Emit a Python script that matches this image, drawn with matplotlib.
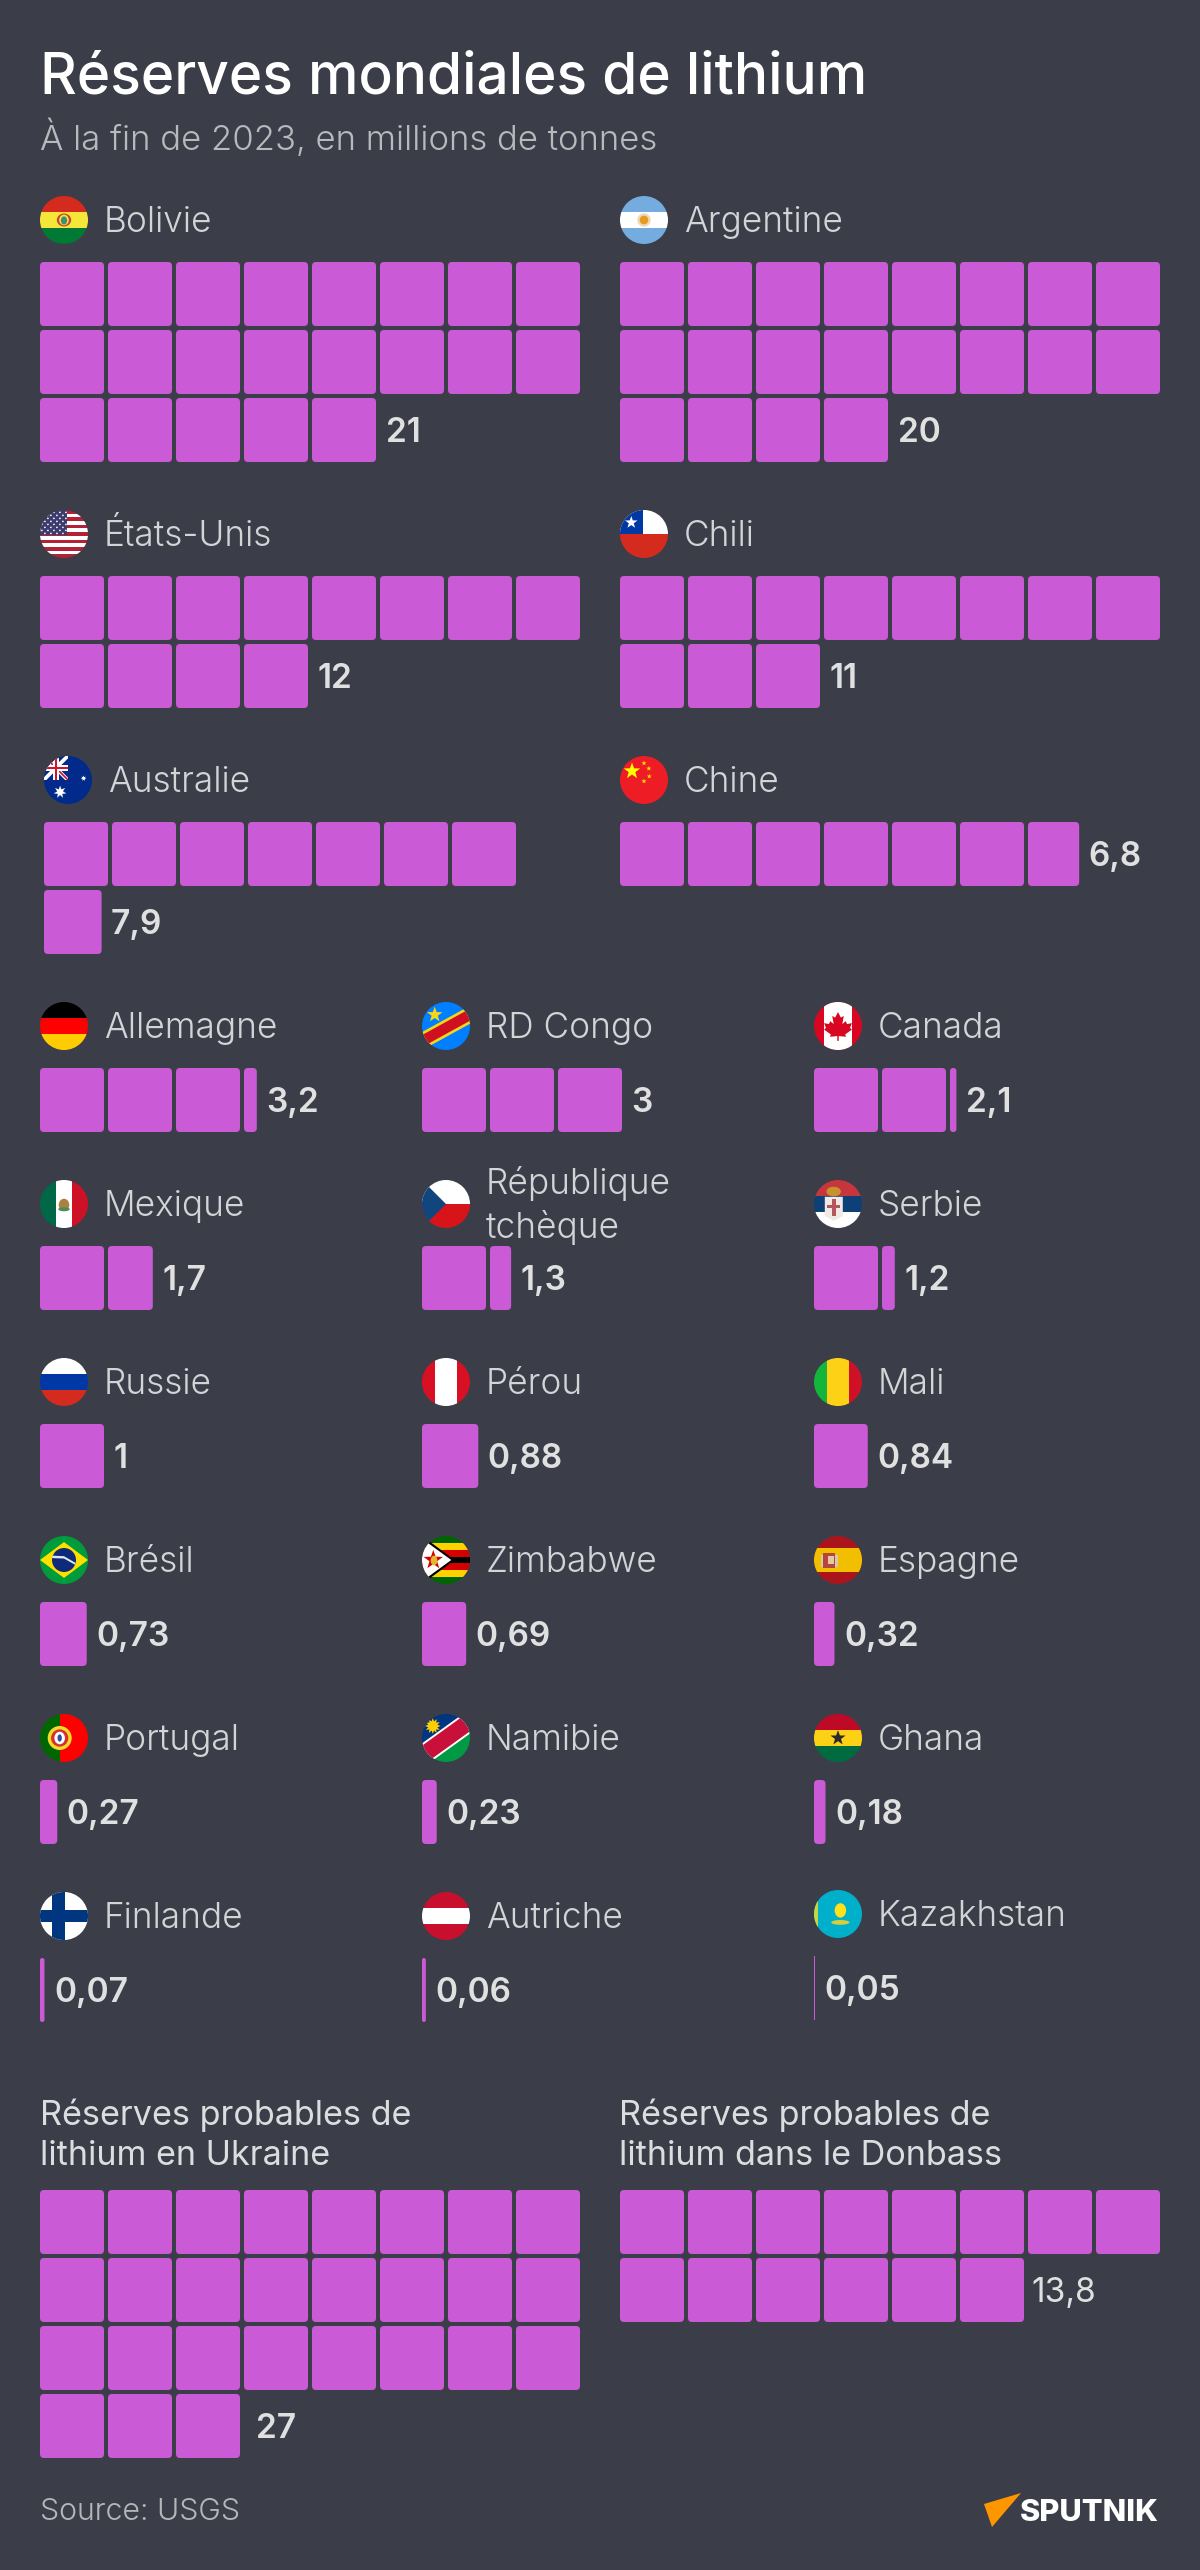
import math
import matplotlib
matplotlib.use('Agg')
import matplotlib.pyplot as plt
from matplotlib.patches import Circle, Polygon, Rectangle, FancyBboxPatch, Ellipse

# ---------- data ----------
big_names = ['Bolivie', 'Argentine', 'États-Unis', 'Chili', 'Australie', 'Chine']
big_labels = ['21', '20', '12', '11', '7,9', '6,8']
big_values = [21, 20, 12, 11, 7.9, 6.8]
big_per_row = [8, 8, 8, 8, 7, 8]

small_names = ['Allemagne', 'RD Congo', 'Canada',
               'Mexique', 'République\ntchèque', 'Serbie',
               'Russie', 'Pérou', 'Mali',
               'Brésil', 'Zimbabwe', 'Espagne',
               'Portugal', 'Namibie', 'Ghana',
               'Finlande', 'Autriche', 'Kazakhstan']
small_labels = ['3,2', '3', '2,1', '1,7', '1,3', '1,2', '1', '0,88', '0,84',
                '0,73', '0,69', '0,32', '0,27', '0,23', '0,18', '0,07', '0,06', '0,05']
# drawn lengths
small_values = [3.2, 3, 2.1, 1.7, 1.33, 1.2, 1, 0.88, 0.84,
                0.73, 0.69, 0.32, 0.27, 0.23, 0.18, 0.07, 0.06, 0.02]

prob_names = ['Réserves probables de\nlithium en Ukraine', 'Réserves probables de\nlithium dans le Donbass']
prob_labels = ['27', '13,8']
prob_values = [27, 14]   # the Donbass row is drawn with 14 whole squares

title = 'Réserves mondiales de lithium'
subtitle = 'À la fin de 2023, en millions de tonnes'
source = 'Source: USGS'

BG = '#3B3E49'
PURPLE = '#CB5AD6'
LABEL = '#D3D4D6'
VALUE = '#E0E0E0'

fig = plt.figure(figsize=(12, 25.7), dpi=100, facecolor=BG)
ax = fig.add_axes([0, 0, 1, 1])
ax.set_xlim(0, 1200)
ax.set_ylim(2570, 0)
ax.axis('off')

FONT = 'Inter'
NAME_PX = 35.2
VALUE_PX = 33.5


def txt(x, y, s, px, weight=300, color=LABEL, **kw):
    return ax.text(x, y, s, fontsize=px * 0.72, fontweight=weight, color=color,
                   family=FONT, va='baseline', ha='left', **kw)


# ---------- flags ----------
def star_pts(cx, cy, r, n=5, inner=0.4, rot=-90):
    pts = []
    for i in range(2 * n):
        a = math.radians(rot + i * 180 / n)
        rr = r if i % 2 == 0 else r * inner
        pts.append((cx + rr * math.cos(a), cy + rr * math.sin(a)))
    return pts


class Flag:
    def __init__(self, x, y):
        self.cx, self.cy, self.r = x + 24, y + 24, 24
        self.clip = Circle((self.cx, self.cy), 24, transform=ax.transData, fc='none', ec='none')
        ax.add_patch(self.clip)
        self.z = 3

    def poly(self, pts, color):
        p = Polygon([(self.cx + u * 24, self.cy + v * 24) for u, v in pts], closed=True,
                    fc=color, ec='none', lw=0, zorder=self.z)
        ax.add_patch(p)
        p.set_clip_path(self.clip)

    def rect(self, u0, v0, u1, v1, color):
        self.poly([(u0, v0), (u1, v0), (u1, v1), (u0, v1)], color)

    def h(self, *colors):
        n = len(colors)
        for i, c in enumerate(colors):
            self.rect(-1.02, -1 + 2 * i / n, 1.02, -1 + 2 * (i + 1) / n + (0.01 if i < n - 1 else 0), c)

    def v3(self, a, b, c, s=0.46):
        self.rect(-1.02, -1.02, -s, 1.02, a)
        self.rect(-s, -1.02, s, 1.02, b)
        self.rect(s, -1.02, 1.02, 1.02, c)

    def disc(self, u, v, r, color, rv=None):
        e = Ellipse((self.cx + u * 24, self.cy + v * 24), 2 * r * 24, 2 * (rv or r) * 24,
                    fc=color, ec='none', lw=0, zorder=self.z)
        ax.add_patch(e)
        e.set_clip_path(self.clip)

    def star(self, u, v, r, color, n=5, inner=0.4, rot=-90):
        self.poly(star_pts(u, v, r, n, inner, rot), color)

    def band(self, width, color, slope, off=0.0):
        # diagonal band rising to the right
        d = width * math.sqrt(1 + slope ** 2)
        self.poly([(-1.2, slope * 1.2 + off - d), (1.2, -slope * 1.2 + off - d),
                   (1.2, -slope * 1.2 + off + d), (-1.2, slope * 1.2 + off + d)], color)


def f_bolivie(f):
    f.h('#D52B1E', '#F4E73A', '#007934')
    f.disc(0, 0, .3, '#C8492B', .27)
    f.disc(0, 0, .2, '#F4E73A', .22)
    f.disc(0, 0.02, .13, '#3E8E7E', .17)


def f_argentine(f):
    f.h('#74ACDF', '#FFFFFF', '#74ACDF')
    f.disc(0, 0, .28, '#EFD9B4')
    f.disc(0, 0, .18, '#E49B20')


def f_usa(f):
    for i in range(13):
        f.rect(-1.02, -1 + 2 * i / 13, 1.02, -1 + 2 * (i + 1) / 13, '#B22234' if i % 2 == 0 else '#FFFFFF')
    f.rect(-1.02, -1.02, 0.11, 0.04, '#3C3B6E')
    for row in range(8):
        for col in range(9):
            if (row + col) % 2 == 0:
                f.disc(-0.92 + col * 0.125, -0.9 + row * 0.125, .035, '#FFFFFF')


def f_chili(f):
    f.rect(-1.02, -1.02, 1.02, 0, '#FFFFFF')
    f.rect(-1.02, 0, 1.02, 1.02, '#D52B1E')
    f.rect(-1.02, -1.02, -0.056, 0, '#0039A6')
    f.star(-0.53, -0.48, .27, '#FFFFFF')


def f_australie(f):
    f.rect(-1.02, -1.02, 1.02, 1.02, '#012A8A')
    f.rect(-1.02, -1.02, 0, 0, '#012A8A')
    s = [(-1.02, -1.0), (-0.9, -1.0), (0, -0.1), (0, 0), (-0.12, 0), (-1.02, -0.9)]
    f.poly(s, '#FFFFFF')
    s = [(0, -1.0), (-0.12, -1.0), (-1.02, -0.1), (-1.02, 0), (-0.9, 0), (0, -0.9)]
    f.poly(s, '#FFFFFF')
    f.poly([(-1.0, -1.0), (-0.95, -1.0), (0, -0.05), (0, 0), (-0.05, 0), (-1.0, -.95)], '#CF142B')
    f.rect(-0.62, -1.02, -0.38, 0, '#FFFFFF')
    f.rect(-1.02, -0.62, 0, -0.38, '#FFFFFF')
    f.rect(-0.56, -1.02, -0.44, 0, '#CF142B')
    f.rect(-1.02, -0.56, 0, -0.44, '#CF142B')
    f.star(-0.33, 0.5, .27, '#FFFFFF', n=7, inner=.45)
    f.star(0.65, -0.07, .12, '#FFFFFF', n=7, inner=.45)


def f_chine(f):
    f.rect(-1.02, -1.02, 1.02, 1.02, '#EE1C25')
    f.star(-0.5, -0.37, .36, '#FFFF00')
    for u, v in [(0, -.7), (.2, -.48), (.22, -.15), (0, .05)]:
        f.star(u, v, .11, '#FFDE00')


def f_allemagne(f):
    f.h('#000000', '#FF0000', '#FFCC00')


def f_rdc(f):
    f.rect(-1.02, -1.02, 1.02, 1.02, '#007FFF')
    f.band(.33, '#F7D618', 0.55, 0.08)
    f.band(.22, '#CE1021', 0.55, 0.08)
    f.star(-0.47, -0.47, .34, '#F7D618')


def f_canada(f):
    f.rect(-1.02, -1.02, 1.02, 1.02, '#D80621')
    f.rect(-0.6, -1.02, 0.6, 1.02, '#FFFFFF')
    leaf = [(0, -.58), (.12, -.35), (.24, -.42), (.18, -.08), (.32, -.2), (.38, -.08), (.58, -.12),
            (.5, .08), (.58, .15), (.3, .35), (.33, .45), (.03, .42), (.03, .62), (-.03, .62), (-.03, .42),
            (-.33, .45), (-.3, .35), (-.58, .15), (-.5, .08), (-.58, -.12), (-.38, -.08), (-.32, -.2),
            (-.18, -.08), (-.24, -.42), (-.12, -.35)]
    f.poly(leaf, '#D80621')


def f_mexique(f):
    f.v3('#006847', '#FFFFFF', '#CE1126', .33)
    f.disc(0, .04, .22, '#A8823F', .26)
    f.disc(0, .22, .24, '#4F8A5B', .08)


def f_tcheque(f):
    f.rect(-1.02, -1.02, 1.02, 0, '#FFFFFF')
    f.rect(-1.02, 0, 1.02, 1.02, '#D7141A')
    f.poly([(-1.02, -1.02), (0, 0), (-1.02, 1.02)], '#11457E')


def f_serbie(f):
    f.h('#C6363C', '#0C4076', '#FFFFFF')
    f.disc(-.18, -.52, .3, '#C8912E', .2)
    f.poly([(-.55, -.3), (.2, -.3), (.2, .5), (-.17, .7), (-.55, .5)], '#F1E9E4')
    f.rect(-.25, -.2, -.1, .5, '#B4565A')
    f.rect(-.45, .05, .1, .18, '#B4565A')


def f_russie(f):
    f.h('#FFFFFF', '#0039A6', '#D52B1E')


def f_perou(f):
    f.v3('#D91023', '#FFFFFF', '#D91023')


def f_mali(f):
    f.v3('#14B53A', '#FCD116', '#CE1126')


def f_bresil(f):
    f.rect(-1.02, -1.02, 1.02, 1.02, '#009B3A')
    f.poly([(-1, 0), (0, -.75), (1, 0), (0, .75)], '#FEDF00')
    f.disc(0, 0, .5, '#0F2A78')
    f.poly([(-.48, -.18), (0, -.16), (.48, .12), (.46, .2), (0, -.06), (-.5, -.08)], '#DDE5EE')


def f_zimbabwe(f):
    rows = ['#006400', '#FFD200', '#D40000', '#000000', '#D40000', '#FFD200', '#006400']
    for i, c in enumerate(rows):
        f.rect(-1.02, -1 + 2 * i / 7, 1.02, -1 + 2 * (i + 1) / 7, c)
    f.poly([(-1.1, -1.08), (.36, 0), (-1.1, 1.08)], '#000000')
    f.poly([(-1.1, -.96), (.22, 0), (-1.1, .96)], '#FFFFFF')
    f.star(-.53, 0, .42, '#D40000')
    f.disc(-.5, .02, .14, '#E5B825', .2)


def f_espagne(f):
    f.rect(-1.02, -1.02, 1.02, 1.02, '#AA151B')
    f.rect(-1.02, -.5, 1.02, .5, '#F1BF00')
    f.rect(-.62, -.3, -.12, .35, '#B4463C')
    f.rect(-.4, -.15, -.18, .18, '#E7C9A0')
    f.rect(-.72, -.2, -.62, .3, '#D9C6B0')
    f.rect(-.12, -.2, -.02, .3, '#D9C6B0')


def f_portugal(f):
    f.rect(-1.02, -1.02, -.18, 1.02, '#006600')
    f.rect(-.18, -1.02, 1.02, 1.02, '#FF0000')
    f.disc(-.18, 0, .5, '#F2DC28')
    f.disc(-.18, 0, .36, '#D83030')
    f.disc(-.18, 0, .22, '#FFFFFF', .26)
    f.disc(-.18, 0, .09, '#2F4D9E', .15)


def f_namibie(f):
    f.rect(-1.02, -1.02, 1.02, 1.02, '#003580')
    f.poly([(-1.1, 1.1), (1.1, 1.1), (1.1, -.4)], '#009A44')
    f.band(.42, '#FFFFFF', 0.72, 0.02)
    f.band(.34, '#C8103A', 0.72, 0.02)
    f.star(-.55, -.5, .33, '#FFCE00', n=12, inner=.6)
    f.disc(-.55, -.5, .17, '#FFCE00')


def f_ghana(f):
    f.h('#BE0A26', '#FCD116', '#006B3F')
    f.star(0, 0, .33, '#2A2A2A')


def f_finlande(f):
    f.rect(-1.02, -1.02, 1.02, 1.02, '#FFFFFF')
    f.rect(-.5, -1.02, .05, 1.02, '#003580')
    f.rect(-1.02, -.27, 1.02, .27, '#003580')


def f_autriche(f):
    f.h('#C8102E', '#FFFFFF', '#C8102E')


def f_kazakhstan(f):
    f.rect(-1.02, -1.02, 1.02, 1.02, '#00AFCA')
    f.rect(-1.02, -1.02, -.82, 1.02, '#C5D63E')
    f.disc(.1, -.15, .24, '#FEE11A', .3)
    f.disc(.1, .35, .38, '#D6CE3A', .1)


big_flags = [f_bolivie, f_argentine, f_usa, f_chili, f_australie, f_chine]
small_flags = [f_allemagne, f_rdc, f_canada, f_mexique, f_tcheque, f_serbie,
               f_russie, f_perou, f_mali, f_bresil, f_zimbabwe, f_espagne,
               f_portugal, f_namibie, f_ghana, f_finlande, f_autriche, f_kazakhstan]

# ---------- grid of squares ----------
CELL, PITCH, RADIUS = 64, 68, 4
GAP = 9.5


def squares(x0, y0, value, per_row=8):
    """Draw value squares; returns the right edge and vertical centre of the last one."""
    n = int(value + 1e-9)
    frac = value - n
    widths = [CELL] * n + ([frac * CELL] if frac > 1e-6 else [])
    end, yc = x0, y0 + CELL / 2
    for i, w in enumerate(widths):
        x = x0 + (i % per_row) * PITCH
        y = y0 + (i // per_row) * PITCH
        if w < 2:
            ax.add_patch(Rectangle((x, y), w, CELL, fc=PURPLE, ec='none', lw=0, zorder=2))
        else:
            r = min(RADIUS, w / 2)
            ax.add_patch(FancyBboxPatch((x, y), w, CELL, boxstyle=f'round,pad=0,rounding_size={r}',
                                        fc=PURPLE, ec='none', lw=0, zorder=2))
        end, yc = x + w, y + CELL / 2
    return end, yc


# ---------- header ----------
txt(40, 94, title, 56.8, weight=500, color='#FFFFFF')
txt(40, 150, subtitle, 34.7, weight=300, color='#B8B9BD')

# ---------- large countries ----------
big_x = [40, 620, 40, 620, 44, 620]
big_y = [196, 196, 510, 510, 756, 756]
for i, name in enumerate(big_names):
    x, y = big_x[i], big_y[i]
    big_flags[i](Flag(x, y))
    txt(x + 64, y + 36, name, NAME_PX)
    end, yc = squares(x, y + 66, big_values[i], big_per_row[i])
    txt(end + GAP, yc + 12.5, big_labels[i], VALUE_PX, weight=600, color=VALUE)

# ---------- smaller countries ----------
small_x = [40, 422, 814]
small_y = [1002, 1180, 1358, 1536, 1714, 1892]
for i, name in enumerate(small_names):
    x = small_x[i % 3]
    y = small_y[i // 3]
    dy = -2 if name == 'Kazakhstan' else 0
    small_flags[i](Flag(x, y + dy))
    if '\n' in name:
        a, b = name.split('\n')
        txt(x + 64, y + 14, a, NAME_PX)
        txt(x + 64, y + 58, b, NAME_PX)
    else:
        txt(x + 64, y + 36 + dy, name, NAME_PX)
    end, yc = squares(x, y + 66 + dy, small_values[i])
    txt(end + GAP, yc + 12.5, small_labels[i], VALUE_PX, weight=600, color=VALUE)

# ---------- probable reserves ----------
prob_x = [40, 619]
prob_gap = [16.5, 7]
prob_weight = [600, 400]
for i, name in enumerate(prob_names):
    a, b = name.split('\n')
    txt(prob_x[i], 2125, a, 34.2, weight=400, color='#DCDDDF')
    txt(prob_x[i], 2165, b, 34.2, weight=400, color='#DCDDDF')
    end, yc = squares(prob_x[i] + (i > 0), 2190, prob_values[i])
    txt(end + prob_gap[i], yc + 12.5, prob_labels[i], VALUE_PX, weight=prob_weight[i], color=VALUE)

# ---------- footer ----------
txt(40, 2520, source, 30.3, weight=300, color='#B4B6BA')
ax.add_patch(Polygon([(984, 2504), (1021, 2493), (992, 2527)], closed=True, fc='#FF9600', ec='none', lw=0))
txt(1020, 2521, 'SPUTNIK', 30.8, weight=800, color='#FFFFFF')

fig.savefig('out.png', dpi=100, facecolor=BG)
